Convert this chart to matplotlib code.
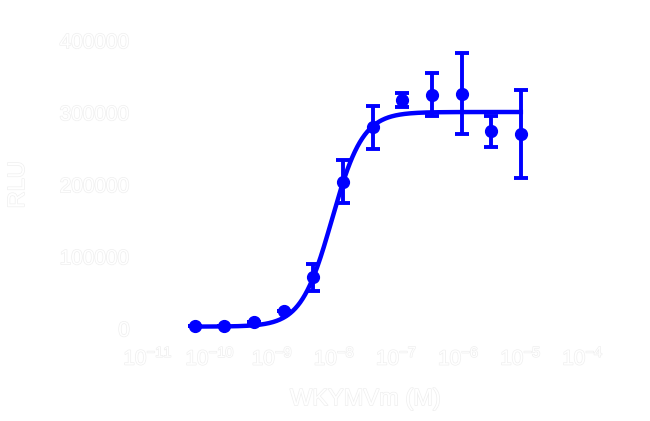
import numpy as np
import matplotlib
matplotlib.use("Agg")
import matplotlib.pyplot as plt
import matplotlib.patheffects as pe
from matplotlib.ticker import LogLocator, NullLocator

# ---- data ----
conc_top = 1e-5          # highest concentration, M
dilution = 3.0           # 3-fold serial dilution
n_points = 12
concentrations = conc_top / dilution ** np.arange(n_points)[::-1]

response_mean = [3900, 4300, 9000, 25000, 71500, 204000,
                 280000, 318000, 325000, 326500, 274000, 270000]
response_sd = [0, 0, 0, 0, 19000, 30000,
               30000, 10000, 30000, 56000, 21000, 61000]

# fitted 4-parameter logistic curve parameters
fit_bottom = 3000
fit_top = 301000
fit_log_ec50 = -8.04
fit_hill = 1.75

x_label = "WKYMVm (M)"
y_label = "RLU"
y_ticks = [0, 100000, 200000, 300000, 400000]
x_lim = (1e-11, 1e-4)
y_lim = (0, 400000)

BLUE = "#0000ff"
TEXT_FX = [pe.withStroke(linewidth=1.0, foreground="#efefef")]

plt.rcParams["font.family"] = ["Liberation Sans", "DejaVu Sans"]

fig = plt.figure(figsize=(6.5, 4.21), dpi=100)
ax = fig.add_axes([0.2277, 0.219, 0.6692, 0.6843])

# fitted curve over the tested range
xc = np.logspace(np.log10(concentrations.min()), np.log10(concentrations.max()), 400)
yc = fit_bottom + (fit_top - fit_bottom) / (1 + 10 ** ((fit_log_ec50 - np.log10(xc)) * fit_hill))
ax.plot(xc, yc, color=BLUE, lw=3.2, clip_on=False, zorder=2)

ax.errorbar(concentrations, response_mean, yerr=response_sd, fmt="o", color=BLUE,
            ms=8.5, elinewidth=2.8, capsize=5, capthick=2.8, clip_on=False, zorder=3)

ax.set_xscale("log")
ax.set_xlim(*x_lim)
ax.set_ylim(*y_lim)
ax.xaxis.set_major_locator(LogLocator(base=10, numticks=20))
ax.xaxis.set_minor_locator(NullLocator())
ax.set_yticks(y_ticks)
ax.set_yticklabels([str(v) for v in y_ticks])

for s in ax.spines.values():
    s.set_color("white")
ax.tick_params(colors="white", labelcolor="white", labelsize=15, length=6, width=1.5, pad=7)

for lbl in ax.get_xticklabels() + ax.get_yticklabels():
    lbl.set_path_effects(TEXT_FX)

ax.set_xlabel(x_label, fontsize=17, color="white", labelpad=14, path_effects=TEXT_FX)
ax.set_ylabel(y_label, fontsize=17, color="white", labelpad=22, path_effects=TEXT_FX)

fig.savefig("out.png", dpi=100, facecolor="white")
